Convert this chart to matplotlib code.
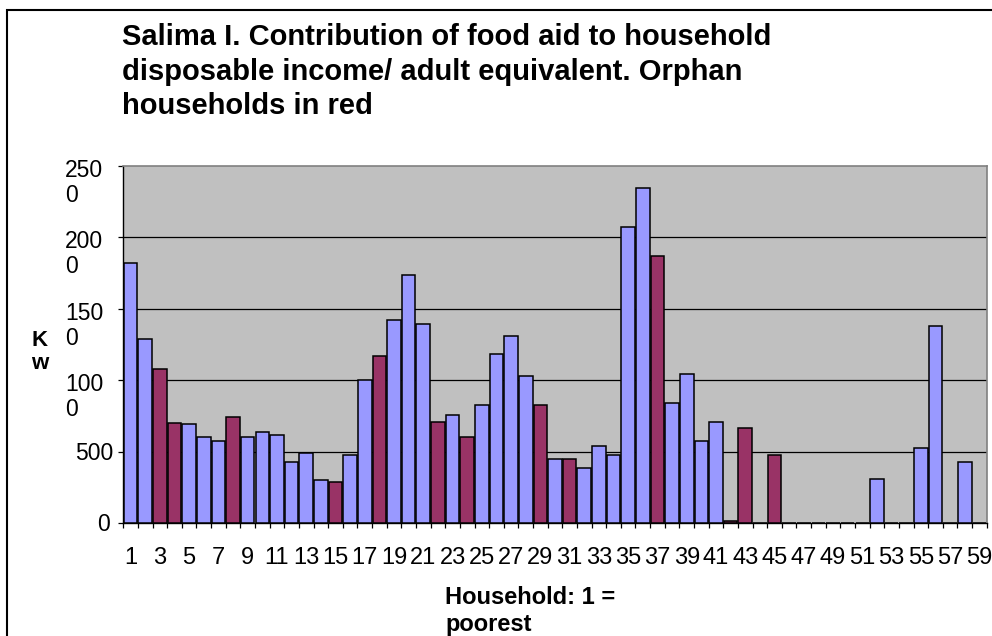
import matplotlib
matplotlib.use("Agg")
import matplotlib.pyplot as plt
from matplotlib.patches import Rectangle

plt.rcParams['font.family'] = ['Liberation Sans', 'DejaVu Sans']

# Food aid per adult equivalent (Kw), households ranked 1 = poorest
households = list(range(1, 60))
food_aid = [1820, 1290, 1080, 700, 690, 600, 575, 740, 600, 640,
            615, 425, 490, 300, 285, 475, 1000, 1165, 1420, 1735,
            1395, 710, 755, 600, 825, 1180, 1305, 1030, 825, 450,
            450, 385, 540, 475, 2070, 2345, 1870, 840, 1040, 575,
            710, 15, 665, 0, 475, 0, 0, 0, 0, 0,
            0, 310, 0, 0, 525, 1380, 0, 425, 0]
orphan_households = [3, 4, 8, 15, 18, 22, 24, 29, 31, 37, 42, 43, 45]

y_ticks = [0, 500, 1000, 1500, 2000, 2500]
y_tick_labels = ["0", "500", "100\n0", "150\n0", "200\n0", "250\n0"]
x_tick_labels = [str(h) for h in households if h % 2 == 1]

title = ("Salima I. Contribution of food aid to household\n"
         "disposable income/ adult equivalent. Orphan\n"
         "households in red")
x_label = "Household: 1 =\npoorest"
y_label = "K\nw"

BLUE = "#9999FF"
PLUM = "#993366"
colors = [PLUM if h in orphan_households else BLUE for h in households]

W, H = 992, 636
fig = plt.figure(figsize=(W / 100, H / 100), dpi=100)
fig.patch.set_facecolor("white")

# outer chart frame (runs off the right and bottom edges)
fig.add_artist(Rectangle((7 / W, -0.1), 1.2, 1.1 - 10 / H,
                         transform=fig.transFigure, fill=False,
                         edgecolor="black", linewidth=1.5))

ax = fig.add_axes([123.3 / W, 1 - 523 / H, 863.4 / W, 357.3 / H])
ax.set_facecolor("#C0C0C0")
ax.bar(households, food_aid, width=0.93, color=colors,
       edgecolor="black", linewidth=1.1, zorder=3)

ax.set_xlim(0.5, 59.5)
ax.set_ylim(0, 2500)

for v in y_ticks[1:-1]:
    ax.axhline(v, color="black", linewidth=0.9, zorder=1)

for side in ("top", "right"):
    ax.spines[side].set_color("#808080")
    ax.spines[side].set_linewidth(1.2)
for side in ("left", "bottom"):
    ax.spines[side].set_color("black")
    ax.spines[side].set_linewidth(1.0)

# x: tick marks on category boundaries, labels on odd categories
ax.set_xticks([h + 0.5 for h in [0] + households])
ax.set_xticklabels([])
ax.set_xticks([h for h in households if h % 2 == 1], minor=True)
ax.set_xticklabels(x_tick_labels, minor=True, fontsize=17)
ax.tick_params(axis="x", which="major", direction="out", length=3.6,
               width=0.9, color="black")
ax.tick_params(axis="x", which="minor", length=0, pad=17.3)

# y: tick marks, wrapped labels drawn as text (baseline of last line)
ax.set_yticks(y_ticks)
ax.set_yticklabels([])
ax.tick_params(axis="y", which="major", direction="out", length=3.6,
               width=0.9, color="black")
label_left_px = {0: 97, 500: 75}
for v, lab in zip(y_ticks, y_tick_labels):
    left = label_left_px.get(v, 65)
    dy = -36.0 if "\n" in lab else -8.3
    ax.annotate(lab, xy=(0, v), xycoords=("axes fraction", "data"),
                xytext=((left - 123.3) * 0.72, dy * 0.72),
                textcoords="offset points", ha="left", va="baseline",
                fontsize=16.5, linespacing=1.11, annotation_clip=False)

fig.text(39.5 / W, 1 - 369 / H, y_label, ha="center", va="baseline",
         fontsize=16, fontweight="bold", linespacing=1.15,
         multialignment="center")
fig.text(445 / W, 1 - 631.5 / H, x_label, ha="left", va="baseline",
         fontsize=17, fontweight="bold", linespacing=1.27)
fig.text(122 / W, 1 - 114 / H, title, ha="left", va="baseline",
         fontsize=21, fontweight="bold", linespacing=1.29)

fig.savefig("out.png", dpi=100)
